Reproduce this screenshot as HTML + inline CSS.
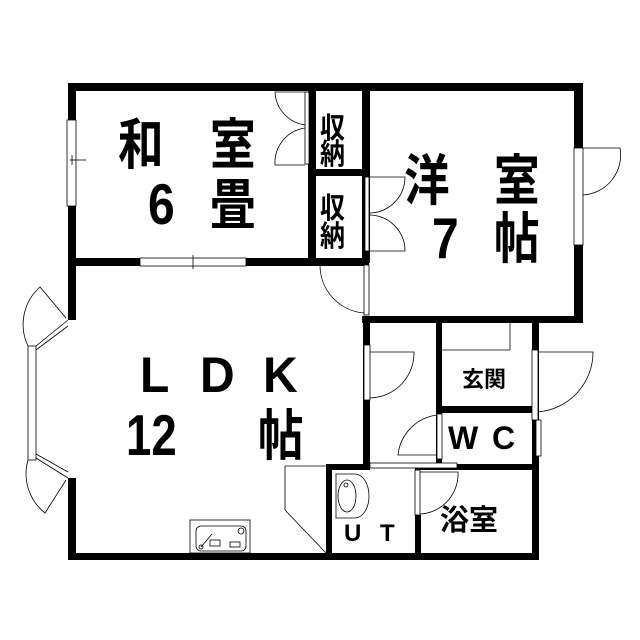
<!DOCTYPE html>
<html><head><meta charset="utf-8"><style>
html,body{margin:0;padding:0;background:#fff}
svg{display:block}
text{font-family:"Liberation Sans","Noto Sans CJK JP",sans-serif;fill:#000}
</style></head><body>
<svg width="640" height="640" viewBox="0 0 640 640" xmlns="http://www.w3.org/2000/svg">
<g fill="#000">
<rect x="68" y="83" width="515" height="8"/>
<rect x="68" y="83" width="8" height="237"/>
<rect x="68" y="478" width="8" height="82"/>
<rect x="574" y="83" width="9" height="240"/>
<rect x="68" y="258" width="301" height="8"/>
<rect x="308" y="83" width="8" height="183"/>
<rect x="308" y="169" width="60" height="7"/>
<rect x="362" y="83" width="8" height="180"/>
<rect x="362" y="316" width="221" height="7"/>
<rect x="363" y="316" width="7" height="154"/>
<rect x="436" y="316" width="6" height="96"/>
<rect x="532" y="316" width="7" height="244"/>
<rect x="436" y="406" width="103" height="7"/>
<rect x="436" y="406" width="6" height="60"/>
<rect x="415" y="464" width="124" height="6"/>
<rect x="326" y="464" width="44" height="6"/>
<rect x="326" y="464" width="6" height="96"/>
<rect x="415" y="515" width="6" height="45"/>
<rect x="68" y="553" width="471" height="7"/>
</g>
<g fill="#fff" stroke="#000" stroke-width="0.8">
<rect x="67" y="120" width="9" height="86"/>
<rect x="140" y="258" width="106" height="8"/>
<rect x="574" y="148" width="9" height="97"/>
<rect x="536" y="420" width="5" height="36"/>
<rect x="28" y="346" width="8" height="114"/>
<rect x="305" y="92" width="4" height="72"/>
<rect x="365" y="177" width="4" height="74"/>
<rect x="364" y="265" width="5" height="50"/>
<rect x="364" y="345" width="6" height="55"/>
<rect x="532" y="350" width="6" height="70"/>
<rect x="437" y="414" width="5" height="45"/>
<rect x="415" y="470" width="5" height="45"/>
<rect x="370" y="463" width="87" height="5"/>
</g>
<g fill="none" stroke="#000" stroke-width="0.8">
<line x1="70" y1="160" x2="86" y2="160"/><line x1="72" y1="155" x2="72" y2="165"/>
<line x1="193" y1="255" x2="193" y2="269"/>
<path d="M305 92 L275 92 A35 35 0 0 0 305 125"/>
<path d="M305 165 L275 165 A35 35 0 0 1 305 128"/>
<path d="M369 177 L405 177 A36 36 0 0 1 369 213"/>
<path d="M369 251 L405 251 A36 36 0 0 0 369 215"/>
<path d="M364 265 L320 265 A48 48 0 0 0 364 313"/>
<path d="M583 148 L620 148 A40 40 0 0 1 583 195"/>
<path d="M370 352 L414 352 A45 45 0 0 1 370 398"/>
<path d="M538 352 L593 352 A60 60 0 0 1 538 412"/>
<line x1="442" y1="350" x2="510" y2="350"/><line x1="510" y1="323" x2="510" y2="350"/>
<path d="M437 415 A45 45 0 0 0 398 455 L437 455"/>
<path d="M420 472 L458 472 A40 40 0 0 1 420 514"/>
<line x1="68" y1="320" x2="36" y2="346"/><line x1="68" y1="326" x2="36" y2="350"/>
<line x1="68" y1="478" x2="36" y2="458"/><line x1="68" y1="472" x2="36" y2="454"/>
<path d="M66 318 L40 287 A50 50 0 0 0 28 346"/>
<path d="M66 480 L45 513 A50 50 0 0 1 28 460"/>
<line x1="285" y1="466" x2="326" y2="466"/>
<line x1="285" y1="466" x2="285" y2="510"/>
<line x1="285" y1="510" x2="326" y2="553"/>
<rect x="190" y="520" width="60" height="33"/>
<rect x="196" y="526" width="50" height="25" rx="5"/>
<circle cx="241" cy="531" r="3"/>
<rect x="210" y="540" width="10" height="6"/><rect x="230" y="542" width="10" height="5"/>
<circle cx="201" cy="547" r="2"/>
<line x1="201" y1="547" x2="212" y2="534"/>
<path d="M336 474 L355 474 A14 22 0 0 1 355 518 L336 518 Z"/>
<ellipse cx="347" cy="496" rx="9" ry="16"/>
<circle cx="346" cy="485" r="2"/>
</g>
<g font-size="48" font-weight="bold">
<text transform="translate(118,164) scale(0.95,1.15)">和</text>
<text transform="translate(210,164) scale(0.95,1.15)">室</text>
<text transform="translate(148,224) scale(1,1.2)">6</text>
<text transform="translate(210,224) scale(0.95,1.15)">畳</text>
<text transform="translate(404,200) scale(0.95,1.15)">洋</text>
<text transform="translate(494,200) scale(0.95,1.15)">室</text>
<text transform="translate(432,258) scale(1,1.2)">7</text>
<text transform="translate(494,258) scale(0.95,1.15)">帖</text>
<text transform="translate(140,392) scale(1,1.05)">L</text>
<text transform="translate(200,392) scale(1,1.05)">D</text>
<text transform="translate(263,392) scale(1,1.05)">K</text>
<text transform="translate(126,455) scale(0.95,1.2)">12</text>
<text transform="translate(258,455) scale(0.95,1.15)">帖</text>
</g>
<g font-size="25" font-weight="bold">
<text transform="translate(320,138) scale(1,1.15)">収</text>
<text transform="translate(320,164) scale(1,1.15)">納</text>
<text transform="translate(320,218) scale(1,1.15)">収</text>
<text transform="translate(320,246) scale(1,1.15)">納</text>
</g>
<g font-weight="bold">
<text x="462" y="387" font-size="22">玄関</text>
<text x="448" y="449" font-size="32">W</text>
<text x="492" y="449" font-size="32">C</text>
<text x="440" y="530" font-size="29">浴室</text>
<text x="344" y="541" font-size="24">U</text>
<text x="380" y="541" font-size="24">T</text>
</g>
</svg>
</body></html>
